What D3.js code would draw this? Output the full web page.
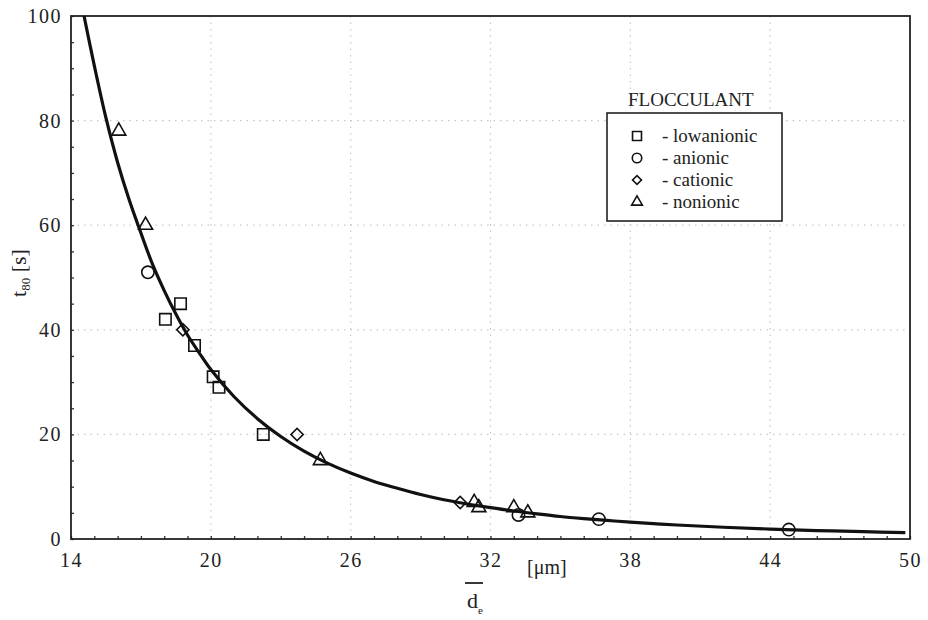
<!DOCTYPE html>
<html>
<head>
<meta charset="utf-8">
<script src="https://cdn.jsdelivr.net/npm/d3@7"></script>
<style>
  body { margin: 0; background: #fff; }
  svg text { font-family: "Liberation Serif", Tinos, "Times New Roman", Times, "Noto Serif", "DejaVu Serif", FreeSerif, serif; }
</style>
</head>
<body>
<div class="graph"></div>
<script>
// measured points, [d_e um, t80 s]
const lowanionic = [[18.7, 45], [18.05, 42], [19.3, 37], [20.1, 31], [20.35, 29], [22.25, 20]];
const anionic = [[17.3, 51], [33.2, 4.6], [36.65, 3.8], [44.8, 1.8]];
const cationic = [[18.8, 40], [23.7, 20], [30.7, 7]];
const nonionic = [[16.05, 78], [17.2, 60], [24.7, 15], [31.3, 7], [31.5, 6], [33.0, 6], [33.6, 5]];

// fitted curve
const curveX = [14.56, 15, 15.5, 16, 16.5, 17, 17.5, 18, 18.5, 19, 19.5, 20, 21, 22, 23, 24, 25, 26, 27, 28,
  29, 30, 31, 32, 33, 34, 35, 36, 37, 38, 40, 42, 44, 46, 48, 49.8];
const curveY = [100, 90.5, 80.5, 72, 64.8, 58.5, 52.5, 47.5, 43, 39, 35.6, 32.4, 27.2, 23, 19.6, 16.8, 14.5, 12.6, 11, 9.7,
  8.5, 7.5, 6.7, 6, 5.35, 4.8, 4.3, 3.9, 3.55, 3.22, 2.68, 2.25, 1.9, 1.62, 1.4, 1.22];

const xTicks = [14, 20, 26, 32, 38, 44, 50];
const yTicks = [0, 20, 40, 60, 80, 100];
const legendNames = ['- lowanionic', '- anionic', '- cationic', '- nonionic'];

const W = 928, H = 620;
const margin = {top: 16, right: 18, bottom: 81, left: 71};
const width = W - margin.left - margin.right,
      height = H - margin.top - margin.bottom;

const svg = d3.select(".graph").append("svg")
  .attr("width", W).attr("height", H);
const g = svg.append("g")
  .attr("transform", "translate(" + margin.left + "," + margin.top + ")");

const x = d3.scaleLinear().domain([14, 50]).range([0, width]);
const y = d3.scaleLinear().domain([0, 100]).range([height, 0]);

// dotted grid
g.append("g").selectAll("line")
  .data(xTicks.slice(1, -1)).enter().append("line")
  .attr("x1", d => x(d)).attr("x2", d => x(d))
  .attr("y1", 0).attr("y2", height)
  .attr("stroke", "#c8c8c8").attr("stroke-width", 1.2).attr("stroke-dasharray", "1.5,5");
g.append("g").selectAll("line")
  .data(yTicks.slice(1, -1)).enter().append("line")
  .attr("y1", d => y(d)).attr("y2", d => y(d))
  .attr("x1", 0).attr("x2", width)
  .attr("stroke", "#c8c8c8").attr("stroke-width", 1.2).attr("stroke-dasharray", "1.5,5");

// minor ticks, pointing inward
g.append("g")
  .attr("transform", "translate(0," + height + ")")
  .call(d3.axisBottom(x).ticks(36).tickSize(-3).tickFormat(""))
  .call(a => a.select(".domain").remove())
  .selectAll("line").attr("stroke", "#333").attr("stroke-width", 1.3);
g.append("g")
  .call(d3.axisLeft(y).ticks(25).tickSize(-3).tickFormat(""))
  .call(a => a.select(".domain").remove())
  .selectAll("line").attr("stroke", "#333").attr("stroke-width", 1.3);

// tick labels
g.append("g")
  .attr("transform", "translate(0," + height + ")")
  .call(d3.axisBottom(x).tickValues(xTicks).tickSize(0).tickPadding(14))
  .call(a => a.select(".domain").remove())
  .attr("font-family", null)
  .selectAll("text")
    .attr("font-size", 20).attr("letter-spacing", 1.5).attr("fill", "#222");
g.append("g")
  .call(d3.axisLeft(y).tickValues(yTicks).tickSize(0).tickPadding(9))
  .call(a => a.select(".domain").remove())
  .attr("font-family", null)
  .selectAll("text")
    .attr("font-size", 20).attr("letter-spacing", 1.5).attr("fill", "#222");

// frame
g.append("rect")
  .attr("width", width).attr("height", height)
  .attr("fill", "none").attr("stroke", "#222").attr("stroke-width", 1.8);

// curve
g.append("path")
  .datum(curveX.map((d, i) => [d, curveY[i]]))
  .attr("fill", "none").attr("stroke", "#111").attr("stroke-width", 3.2)
  .attr("d", d3.line().x(d => x(d[0])).y(d => y(d[1])).curve(d3.curveCatmullRom));

// markers (diamond = rotated square)
const sym = [d3.symbolSquare, d3.symbolCircle, d3.symbolSquare, d3.symbolTriangle];
const rot = [0, 0, 45, 0];
const sizes = [130, 120, 75, 85];
const groups = [lowanionic, anionic, cationic, nonionic];
groups.forEach(function(pts, k) {
  g.append("g").selectAll("path")
    .data(pts).enter().append("path")
    .attr("transform", d => "translate(" + x(d[0]) + "," + y(d[1]) + ") rotate(" + rot[k] + ")")
    .attr("d", d3.symbol().type(sym[k]).size(sizes[k]))
    .attr("fill", "none").attr("stroke", "#111").attr("stroke-width", 1.6);
});

// legend
const lg = svg.append("g").attr("transform", "translate(607,113)");
lg.append("text").attr("x", 21).attr("y", -7)
  .attr("font-size", 19).attr("fill", "#222").text("FLOCCULANT");
lg.append("rect").attr("width", 175).attr("height", 108)
  .attr("fill", "#fff").attr("stroke", "#222").attr("stroke-width", 1.6);
const lsizes = [80, 70, 40, 50];
legendNames.forEach(function(n, i) {
  const row = lg.append("g").attr("transform", "translate(0," + (23 + i * 22) + ")");
  row.append("path").attr("transform", "translate(30,0) rotate(" + rot[i] + ")")
    .attr("d", d3.symbol().type(sym[i]).size(lsizes[i]))
    .attr("fill", "none").attr("stroke", "#111").attr("stroke-width", 1.6);
  row.append("text").attr("x", 55).attr("y", 6)
    .attr("font-size", 19).attr("fill", "#222").text(n);
});

// y label: t80 [s]
const yl = svg.append("text")
  .attr("transform", "translate(26,273) rotate(-90)")
  .attr("text-anchor", "middle").attr("font-size", 22).attr("fill", "#222");
yl.append("tspan").text("t");
yl.append("tspan").attr("font-size", 13).attr("dy", 4).text("80");
yl.append("tspan").attr("dy", -4).text(" [s]");

// x label: overlined d_e and unit
svg.append("line").attr("x1", 465).attr("x2", 483).attr("y1", 583).attr("y2", 583)
  .attr("stroke", "#222").attr("stroke-width", 1.8);
const xl = svg.append("text").attr("x", 467).attr("y", 608)
  .attr("font-size", 22).attr("fill", "#222");
xl.append("tspan").text("d");
xl.append("tspan").attr("font-size", 11).attr("dy", 6).text("e");
svg.append("text").attr("x", 527).attr("y", 574)
  .attr("font-size", 20).attr("fill", "#222").text("[μm]");
</script>
</body>
</html>
